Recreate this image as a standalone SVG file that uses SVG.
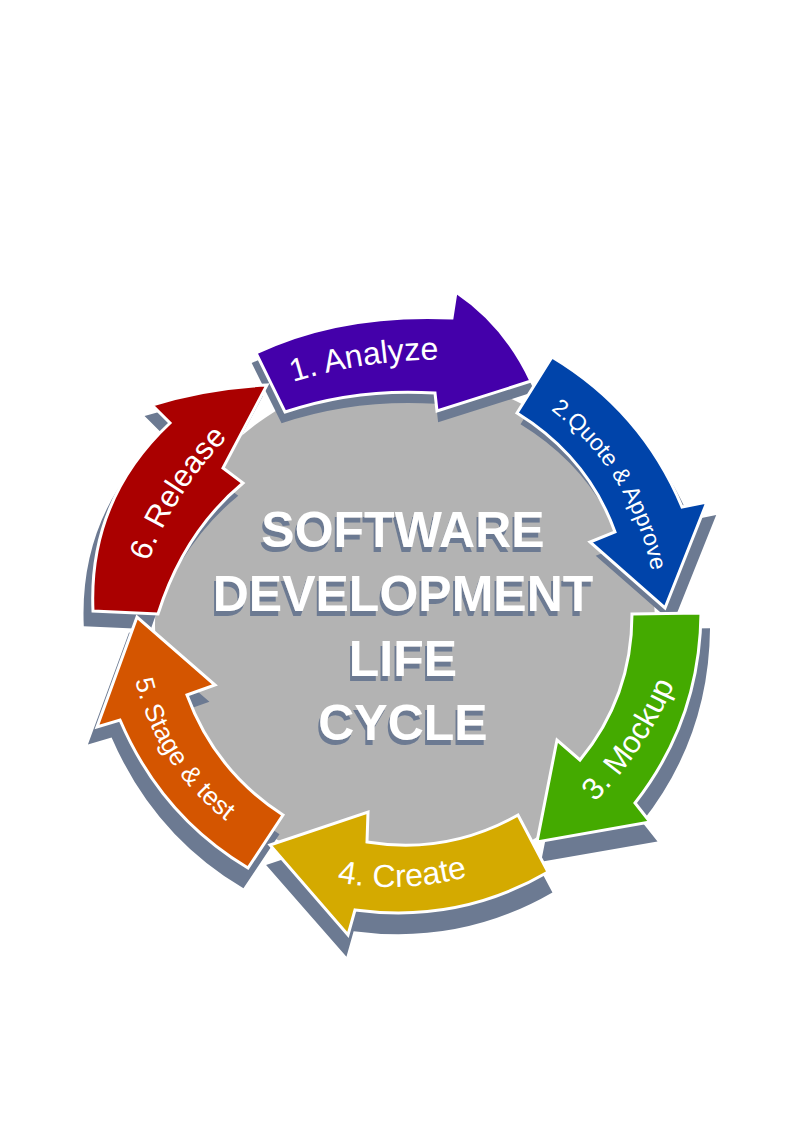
<svg xmlns="http://www.w3.org/2000/svg" xmlns:xlink="http://www.w3.org/1999/xlink" width="794" height="1123" viewBox="0 0 794 1123">
  <defs>
    <style>
      .arrow { stroke: #ffffff; stroke-width: 3; stroke-linejoin: miter; }
      .shadow { fill: #6C7A92; }
      .lbl { fill: #ffffff; font-family: "Liberation Sans", Arial, sans-serif; text-anchor: middle; }
      .title { fill: #ffffff; font-family: "Liberation Sans", Arial, sans-serif; font-weight: bold; font-size: 50px; text-anchor: middle; }
    </style>
    <!-- hard offset shadow for the title lettering -->
    <filter id="titleShadow" x="-10%" y="-20%" width="120%" height="150%">
      <feOffset in="SourceAlpha" dx="-2" dy="5" result="off"/>
      <feFlood flood-color="#6C7A92"/>
      <feComposite in2="off" operator="in" result="sh"/>
      <feMerge>
        <feMergeNode in="sh"/>
        <feMergeNode in="SourceGraphic"/>
      </feMerge>
    </filter>
    <!-- arrow outlines, one per phase -->
    <path id="s1" d="M256,353 Q340,313 452,318 L456,292 Q505,325 531,381 L437,411 L435,393 Q356,388 285,412 Z"/>
    <path id="s2" d="M552,357 Q642,411 682,507 L707,502 L665,608 L590,542 L615,532 Q588,457 517,413 Z"/>
    <path id="s3" d="M632,614 L701,613 Q700,720 635,803 L650,822 L537,842 L557,740 L580,760 Q632,697 632,614 Z"/>
    <path id="s4" d="M548,872 L518,815 Q447,855 367,842 L368,812 L270,845 L348,935 L355,910 Q459,924 548,872 Z"/>
    <path id="s5" d="M248,868 Q161,816 120,720 L97,727 L137,617 L215,685 L187,695 Q215,771 283,815 Z"/>
    <path id="s6" d="M93,611 Q88,500 170,423 L152,405 Q207,388 267,385 L223,468 L243,483 Q184,532 158,614 Z"/>
    <!-- label baselines -->
    <path id="t1" d="M237.4,402.8 A509.5,509.5 0 0 1 498,362.5"/>
    <path id="t2" d="M493.4,376.5 A268,268 0 0 1 656.3,637.2"/>
    <path id="t3" d="M549.1,841.3 A377.5,377.5 0 0 0 693.4,627.1"/>
    <path id="t4" d="M299.3,872.9 A300,300 0 0 0 504.3,864.4"/>
    <path id="t5" d="M128.3,633.8 A253,253 0 0 0 265.8,846.2"/>
    <path id="t6" d="M131.2,624.7 A351,351 0 0 1 301,381.3"/>
  </defs>

  <rect width="794" height="1123" fill="#ffffff"/>

  <!-- central disc -->
  <circle id="hub" cx="405" cy="625" r="250" fill="#B3B3B3"/>

  <!-- drop shadows of the six arrows -->
  <g id="shadows" class="shadow" transform="matrix(1.03,0,0,1.02,-12,3)">
    <use xlink:href="#s1"/>
    <use xlink:href="#s2"/>
    <use xlink:href="#s3"/>
    <use xlink:href="#s4"/>
    <use xlink:href="#s5"/>
    <use xlink:href="#s6"/>
  </g>

  <g id="step-analyze">
    <use xlink:href="#s1" class="arrow" fill="#4400AA"/>
    <text class="lbl" font-size="32"><textPath xlink:href="#t1" startOffset="50%">1. Analyze</textPath></text>
  </g>
  <g id="step-quote">
    <use xlink:href="#s2" class="arrow" fill="#0044AA"/>
    <text class="lbl" font-size="23"><textPath xlink:href="#t2" startOffset="50%">2.Quote &amp; Approve</textPath></text>
  </g>
  <g id="step-mockup">
    <use xlink:href="#s3" class="arrow" fill="#44AA00"/>
    <text class="lbl" font-size="31"><textPath xlink:href="#t3" startOffset="50%">3. Mockup</textPath></text>
  </g>
  <g id="step-create">
    <use xlink:href="#s4" class="arrow" fill="#D4AA00"/>
    <text class="lbl" font-size="32"><textPath xlink:href="#t4" startOffset="50%">4. Create</textPath></text>
  </g>
  <g id="step-stage">
    <use xlink:href="#s5" class="arrow" fill="#D45500"/>
    <text class="lbl" font-size="26"><textPath xlink:href="#t5" startOffset="50%">5. Stage &amp; test</textPath></text>
  </g>
  <g id="step-release">
    <use xlink:href="#s6" class="arrow" fill="#AA0000"/>
    <text class="lbl" font-size="31"><textPath xlink:href="#t6" startOffset="45.5%">6. Release</textPath></text>
  </g>

  <!-- title in the middle -->
  <g id="title" class="title" filter="url(#titleShadow)">
    <text x="403" y="547">SOFTWARE</text>
    <text x="403" y="611">DEVELOPMENT</text>
    <text x="403" y="676">LIFE</text>
    <text x="403" y="740">CYCLE</text>
  </g>
</svg>
